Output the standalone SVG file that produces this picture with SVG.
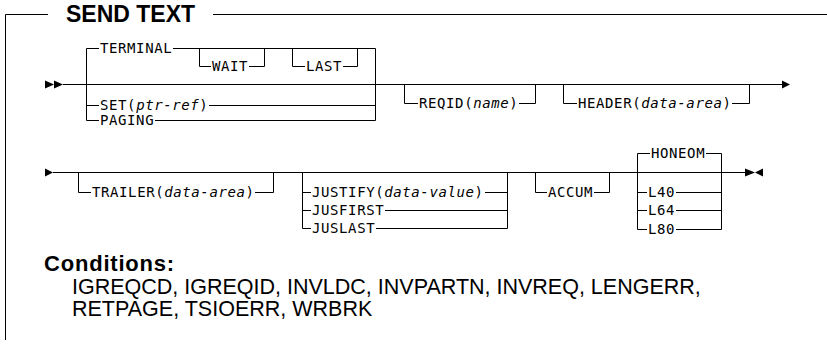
<svg xmlns="http://www.w3.org/2000/svg" width="827" height="349" viewBox="0 0 827 349">
<style>
.l{fill:none;stroke:#000;stroke-width:1}
.m{font-family:"DejaVu Sans Mono","Liberation Mono",monospace;font-size:14px;letter-spacing:0.6px;fill:#000}
.i{font-style:italic}
.t{font-family:"Liberation Sans",Arial,sans-serif;font-weight:bold;font-size:23px;fill:#000}
.cb{font-family:"Liberation Sans",Arial,sans-serif;font-weight:bold;font-size:22px;letter-spacing:0.8px;fill:#000}
.c{font-family:"Liberation Sans",Arial,sans-serif;font-size:21.5px;fill:#000}
.a{fill:#000}
</style>
<rect width="827" height="349" fill="#fff"/>
<g id="frame">
<path class="l" d="M5.5,340 V14.5 H48 M213,14.5 H827"/>
<text class="t" x="66" y="22">SEND TEXT</text>
</g>
<g id="connectors">
<polygon class="a" points="45,80.5 54,84.5 45,88.5"/>
<polygon class="a" points="54,80.5 63,84.5 54,88.5"/>
<path class="l" d="M63,84.5 H782"/>
<polygon class="a" points="782,80.5 790,84.5 782,88.5"/>
<polygon class="a" points="45,168.5 53,172.5 45,176.5"/>
<path class="l" d="M53,172.5 H745"/>
<polygon class="a" points="745,168.5 755,172.5 745,176.5"/>
<polygon class="a" points="763,168.5 755,172.5 763,176.5"/>
</g>
<g id="terminal-group">
<path class="l" d="M86.5,48.5 V120.5 M375.5,48.5 V120.5 M86.5,48.5 H99 M173,48.5 H375.5 M86.5,105.5 H99 M209,105.5 H375.5 M86.5,120.5 H99 M155,120.5 H375.5"/>
<text class="m" x="100" y="53">TERMINAL</text>
<text class="m" x="100" y="110">SET(<tspan class="i">ptr-ref</tspan>)</text>
<text class="m" x="100" y="125">PAGING</text>
</g>
<g id="wait">
<path class="l" d="M199.5,48.5 V66.5 H211 M249,66.5 H264.5 V48.5"/>
<text class="m" x="212" y="71">WAIT</text>
</g>
<g id="last">
<path class="l" d="M292.5,48.5 V66.5 H305 M343,66.5 H357.5 V48.5"/>
<text class="m" x="306" y="71">LAST</text>
</g>
<g id="reqid">
<path class="l" d="M404.5,84.5 V103.5 H418 M519,103.5 H535.5 V84.5"/>
<text class="m" x="419" y="108">REQID(<tspan class="i">name</tspan>)</text>
</g>
<g id="header">
<path class="l" d="M563.5,84.5 V103.5 H577 M732,103.5 H749.5 V84.5"/>
<text class="m" x="578" y="108">HEADER(<tspan class="i">data-area</tspan>)</text>
</g>
<g id="trailer">
<path class="l" d="M78.5,172.5 V192.5 H91 M255,192.5 H273.5 V172.5"/>
<text class="m" x="92" y="197">TRAILER(<tspan class="i">data-area</tspan>)</text>
</g>
<g id="justify-group">
<path class="l" d="M302.5,172.5 V228.5 M507.5,172.5 V228.5 M302.5,192.5 H311 M485,192.5 H507.5 M302.5,210.5 H311 M385,210.5 H507.5 M302.5,228.5 H311 M376,228.5 H507.5"/>
<text class="m" x="312" y="197">JUSTIFY(<tspan class="i">data-value</tspan>)</text>
<text class="m" x="312" y="215">JUSFIRST</text>
<text class="m" x="312" y="233">JUSLAST</text>
</g>
<g id="accum">
<path class="l" d="M535.5,172.5 V192.5 H547 M594,192.5 H609.5 V172.5"/>
<text class="m" x="548" y="197">ACCUM</text>
</g>
<g id="honeom-group">
<path class="l" d="M637.5,153.5 V229.5 M721.5,153.5 V229.5 M637.5,153.5 H650 M706,153.5 H721.5 M637.5,192.5 H647 M676,192.5 H721.5 M637.5,210.5 H647 M676,210.5 H721.5 M637.5,229.5 H647 M676,229.5 H721.5"/>
<text class="m" x="651" y="158">HONEOM</text>
<text class="m" x="648" y="197">L40</text>
<text class="m" x="648" y="215">L64</text>
<text class="m" x="648" y="234">L80</text>
</g>
<g id="conditions">
<text class="cb" x="44" y="271">Conditions:</text>
<text class="c" x="72" y="294">IGREQCD, IGREQID, INVLDC, INVPARTN, INVREQ, LENGERR,</text>
<text class="c" x="72" y="316">RETPAGE, TSIOERR, WRBRK</text>
</g>
</svg>
